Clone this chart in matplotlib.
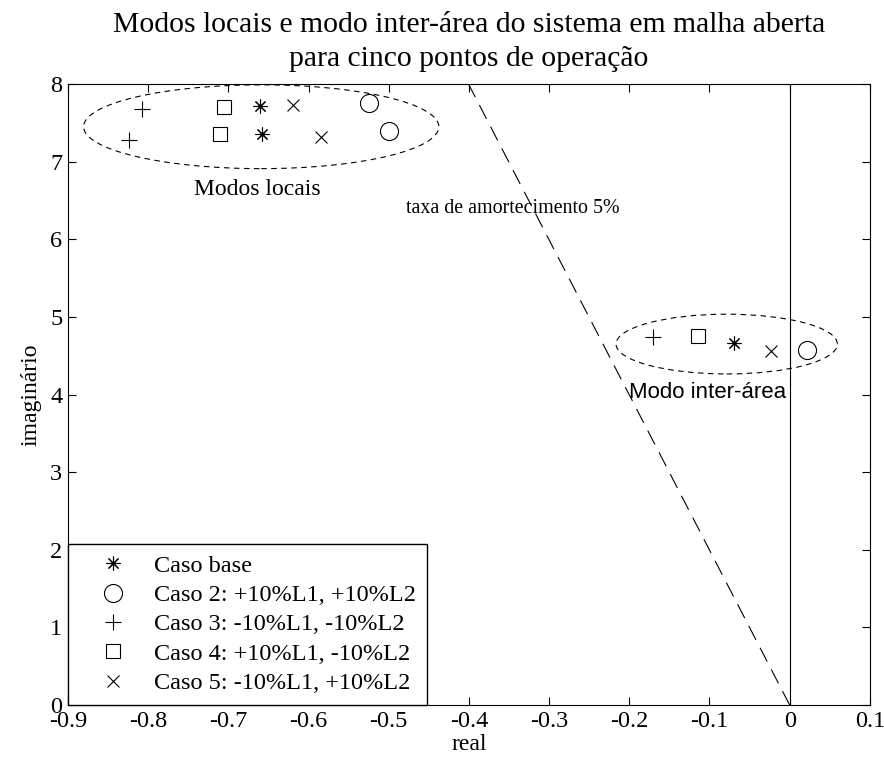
import matplotlib.pyplot as plt
from matplotlib.patches import Ellipse

plt.rcParams['font.family'] = 'Liberation Serif'

# autovalores (parte real, parte imaginaria) para cada caso
casos = ['Caso base', 'Caso 2: +10%L1, +10%L2', 'Caso 3: -10%L1, -10%L2',
         'Caso 4: +10%L1, -10%L2', 'Caso 5: -10%L1, +10%L2']
real_locais = [[-0.660, -0.658], [-0.524, -0.500], [-0.808, -0.824],
               [-0.705, -0.711], [-0.620, -0.585]]
imag_locais = [[7.72, 7.36], [7.75, 7.40], [7.68, 7.28],
               [7.71, 7.36], [7.73, 7.32]]
real_inter = [-0.070, 0.021, -0.171, -0.114, -0.023]
imag_inter = [4.67, 4.58, 4.74, 4.75, 4.56]

marcadores = [(8, 2, 0), 'o', '+', 's', 'x']
tamanhos = [10, 13, 12, 10, 8]

fig = plt.figure(figsize=(8.84, 7.64), dpi=100)
ax = fig.add_axes([0.0769, 0.0772, 0.9071, 0.8128])

for i in range(5):
    ax.plot(real_locais[i] + [real_inter[i]], imag_locais[i] + [imag_inter[i]],
            linestyle='none', marker=marcadores[i], markersize=tamanhos[i],
            markerfacecolor='none', markeredgecolor='k', markeredgewidth=0.8,
            label=casos[i])

# reta de amortecimento 5%
zeta = 0.05
wi = 8.0
ax.plot([0, -zeta / (1 - zeta**2) ** 0.5 * wi], [0, wi], color='k', lw=0.8,
        dashes=(14, 8))
ax.axvline(0, color='k', lw=0.8)

ax.add_patch(Ellipse((-0.659, 7.45), 0.443, 1.08, fill=False, ec='k', lw=0.8,
                     linestyle=(0, (5, 4))))
ax.add_patch(Ellipse((-0.0785, 4.65), 0.276, 0.77, fill=False, ec='k', lw=0.8,
                     linestyle=(0, (5, 4))))

ax.text(-0.664, 6.64, 'Modos locais', ha='center', va='center', fontsize=17)
ax.text(-0.345, 6.40, 'taxa de amortecimento 5%', ha='center', va='center',
        fontsize=14.4)
ax.text(-0.102, 4.02, 'Modo inter-área', ha='center', va='center', fontsize=16,
        family='Liberation Sans')

ax.set_xlim(-0.9, 0.1)
ax.set_ylim(0, 8)
ax.set_xticks([-0.9, -0.8, -0.7, -0.6, -0.5, -0.4, -0.3, -0.2, -0.1, 0, 0.1])
ax.set_xticklabels(['-0.9', '-0.8', '-0.7', '-0.6', '-0.5', '-0.4', '-0.3',
                    '-0.2', '-0.1', '0', '0.1'])
ax.tick_params(direction='in', top=True, right=True, length=6, width=0.8,
               labelsize=17.5, pad=4)
for s in ax.spines.values():
    s.set_linewidth(0.8)

ax.set_xlabel('real', fontsize=17, labelpad=2)
ax.set_ylabel('imaginário', fontsize=17, labelpad=6)
ax.set_title('Modos locais e modo inter-área do sistema em malha aberta\n'
             'para cinco pontos de operação', fontsize=21.3, pad=13,
             linespacing=1.4)

leg = ax.legend(loc='lower left', bbox_to_anchor=(0, 0), borderaxespad=0,
                fontsize=17.5, handlelength=2.8, handletextpad=0.3,
                borderpad=0.45, labelspacing=0.3, fancybox=False,
                edgecolor='k', framealpha=1)
leg.get_frame().set_linewidth(1.0)

fig.savefig('out.png', dpi=100)
